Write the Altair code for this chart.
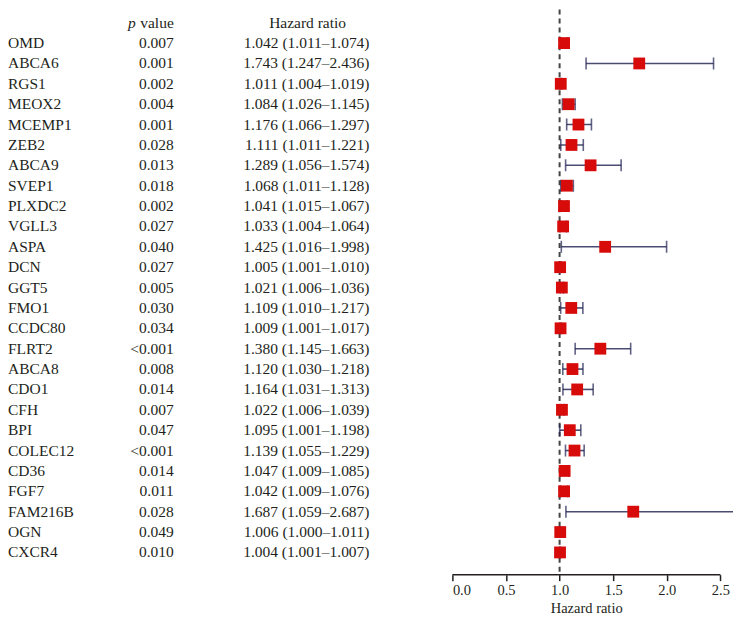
import altair as alt
import pandas as pd

genes = ["OMD", "ABCA6", "RGS1", "MEOX2", "MCEMP1", "ZEB2", "ABCA9", "SVEP1", "PLXDC2",
         "VGLL3", "ASPA", "DCN", "GGT5", "FMO1", "CCDC80", "FLRT2", "ABCA8", "CDO1", "CFH",
         "BPI", "COLEC12", "CD36", "FGF7", "FAM216B", "OGN", "CXCR4"]
pvals = ["0.007", "0.001", "0.002", "0.004", "0.001", "0.028", "0.013", "0.018", "0.002",
         "0.027", "0.040", "0.027", "0.005", "0.030", "0.034", "<0.001", "0.008", "0.014",
         "0.007", "0.047", "<0.001", "0.014", "0.011", "0.028", "0.049", "0.010"]
hr = [1.042, 1.743, 1.011, 1.084, 1.176, 1.111, 1.289, 1.068, 1.041, 1.033, 1.425, 1.005,
      1.021, 1.109, 1.009, 1.380, 1.120, 1.164, 1.022, 1.095, 1.139, 1.047, 1.042, 1.687,
      1.006, 1.004]
lower = [1.011, 1.247, 1.004, 1.026, 1.066, 1.011, 1.056, 1.011, 1.015, 1.004, 1.016, 1.001,
         1.006, 1.010, 1.001, 1.145, 1.030, 1.031, 1.006, 1.001, 1.055, 1.009, 1.009, 1.059,
         1.000, 1.001]
upper = [1.074, 2.436, 1.019, 1.145, 1.297, 1.221, 1.574, 1.128, 1.067, 1.064, 1.998, 1.010,
         1.036, 1.217, 1.017, 1.663, 1.218, 1.313, 1.039, 1.198, 1.229, 1.085, 1.076, 2.687,
         1.011, 1.007]
tick_values = [0.0, 0.5, 1.0, 1.5, 2.0, 2.5]

df = pd.DataFrame({
    "gene": genes,
    "p": pvals,
    "hr": hr,
    "lo": lower,
    "hi": upper,
    "row": list(range(len(genes))),
})
df["label"] = [f"{h:.3f} ({l:.3f}\u2013{u:.3f})" for h, l, u in zip(hr, lower, upper)]

header = pd.DataFrame({"row": [-1]})

FONT = "Liberation Serif"
FS = 15.5
TXT = "#231F20"
H = 566
yscale = alt.Scale(domain=[-1.652, 26.09], reverse=True, nice=False, zero=False)
Y = alt.Y("row:Q", scale=yscale, axis=None)

base_t = alt.Chart(df)
names = base_t.mark_text(align="left", baseline="middle", font=FONT, fontSize=FS, color=TXT).encode(
    x=alt.value(0), y=Y, text="gene:N")
ptxt = base_t.mark_text(align="right", baseline="middle", font=FONT, fontSize=FS, color=TXT).encode(
    x=alt.value(166), y=Y, text="p:N")
hrtxt = base_t.mark_text(align="right", baseline="middle", font=FONT, fontSize=FS, color=TXT).encode(
    x=alt.value(362), y=Y, text="label:N")
hb = alt.Chart(header)
h_p = hb.mark_text(align="right", baseline="middle", font=FONT, fontSize=FS, fontStyle="italic",
                   color=TXT, text="p").encode(x=alt.value(128), y=Y)
h_v = hb.mark_text(align="right", baseline="middle", font=FONT, fontSize=FS,
                   color=TXT, text="value").encode(x=alt.value(166), y=Y)
h_hr = hb.mark_text(align="center", baseline="middle", font=FONT, fontSize=FS,
                    color=TXT, text="Hazard ratio").encode(x=alt.value(300), y=Y)

left = alt.layer(names, ptxt, hrtxt, h_p, h_v, h_hr).properties(width=444, height=H)

xscale = alt.Scale(domain=[0, 2.6174], nice=False, zero=False)
X = alt.X("hr:Q", scale=xscale,
          axis=alt.Axis(values=tick_values, format=".1f", title="Hazard ratio", grid=False,
                        domain=False, tickColor=TXT, tickWidth=1.5,
                        tickSize=6, labelFont=FONT, labelFontSize=14.5, labelColor=TXT,
                        labelPadding=3, titleFont=FONT, titleFontSize=14.5,
                        titleFontWeight="normal", titleColor=TXT, titlePadding=4,
                        titleX=134, titleAnchor="middle", titleAlign="center"))

axis_df = pd.DataFrame({"a": [tick_values[0]], "b": [tick_values[-1]]})
axis_line = alt.Chart(axis_df).mark_rule(color=TXT, strokeWidth=1.5).encode(
    x=alt.X("a:Q", scale=xscale), x2="b:Q", y=alt.value(H))

base = alt.Chart(df)
ref = alt.Chart(pd.DataFrame({"v": [1.0]})).mark_rule(
    color="#444444", strokeWidth=2, strokeDash=[5, 4]).encode(
    x=alt.X("v:Q", scale=xscale), y=alt.value(0), y2=alt.value(H))
bars = base.mark_rule(color="#4a4c72", strokeWidth=1.6, clip=True).encode(
    x=alt.X("lo:Q", scale=xscale), x2="hi:Q", y=Y)
cap_lo = base.mark_tick(color="#1f2150", thickness=1.6, size=12, orient="vertical", clip=True).encode(
    x=alt.X("lo:Q", scale=xscale), y=Y)
cap_hi = base.mark_tick(color="#1f2150", thickness=1.6, size=12, orient="vertical", clip=True).encode(
    x=alt.X("hi:Q", scale=xscale), y=Y)
pts = base.mark_square(color="#D80B0B", size=140, opacity=1).encode(x=X, y=Y)

right = alt.layer(ref, axis_line, bars, cap_lo, cap_hi, pts).properties(width=281, height=H)

chart = alt.hconcat(left, right, spacing=0).properties(
    padding={"left": 0, "top": 0, "right": 0, "bottom": 0}).configure_view(stroke=None)

chart.save("out.html", embed_options={"renderer": "svg", "actions": False})
